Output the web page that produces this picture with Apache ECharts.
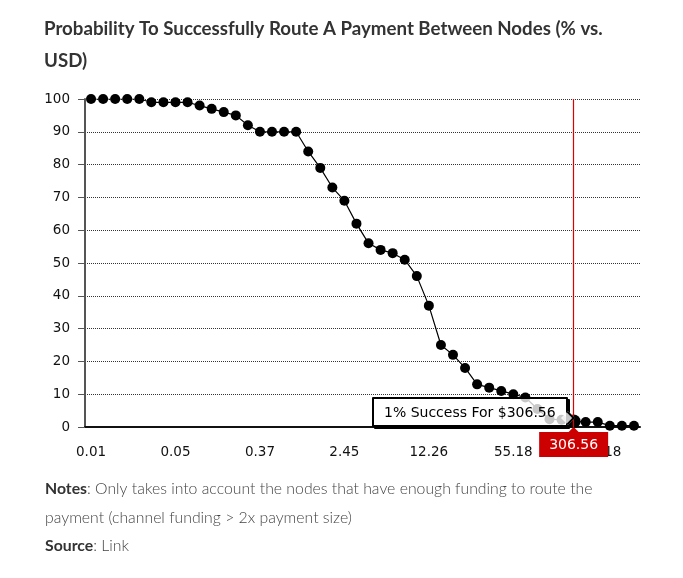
<!DOCTYPE html>
<html>
<head>
<meta charset="utf-8">
<script src="https://cdn.jsdelivr.net/npm/echarts@6/dist/echarts.min.js"></script>
<style>
html,body{margin:0;padding:0;background:#fff;}
#chart{width:683px;height:578px;}
</style>
</head>
<body>
<div id="chart"></div>
<script>
// Payment size in USD (category labels)
const categories = [
  '0.01','0.01','0.02','0.02','0.03','0.03','0.04',
  '0.05','0.07','0.09','0.12','0.16','0.21','0.28',
  '0.37','0.48','0.64','0.83','1.09','1.43','1.87',
  '2.45','3.08','3.88','4.88','6.14','7.73','9.74',
  '12.26','15.21','18.86','23.39','29.00','35.97','44.60',
  '55.18','77.76','109.58','154.42','217.61','306.56','433.60',
  '613.18','867.19','1226.36','1734.38'
];
// Success probability (%)
const successPct = [
  100,100,100,100,100,99,99,
  99,99,98,97,96,95,92,
  90,90,90,90,84,79,73,
  69,62,56,54,53,51,46,
  37,25,22,18,13,12,11,
  10,9,5.5,2.4,2.2,1.7,1.5,
  1.5,0.4,0.4,0.4
];
const yTicks = [0,10,20,30,40,50,60,70,80,90,100];
const highlightIndex = 40;

const chart = echarts.init(document.getElementById('chart'));
const pointerLine = {color: '#e00000', width: 1.2, type: 'solid', opacity: 1};
const option = {
  animation: false,
  backgroundColor: '#fff',
  title: [
    {
      left: 39, top: 8,
      text: 'Probability To Successfully Route A Payment Between Nodes (% vs.\nUSD)',
      textStyle: {fontFamily: 'Lato', fontWeight: 'bold', fontSize: 18.7, color: '#333', lineHeight: 32}
    },
    {
      left: 40, top: 470,
      text: '{b|Notes}: Only takes into account the nodes that have enough funding to route the\npayment (channel funding > 2x payment size)\n{b|Source}: Link',
      textStyle: {
        fontFamily: 'Lato', fontWeight: 300, fontSize: 15.8, color: '#444', lineHeight: 28.5,
        rich: {b: {fontFamily: 'Lato', fontWeight: 'bold', fontSize: 15.8, color: '#333', lineHeight: 28.5}}
      }
    }
  ],
  grid: {left: 85, right: 43, top: 99, bottom: 151},
  axisPointer: {lineStyle: pointerLine},
  tooltip: {
    trigger: 'item',
    triggerOn: 'none',
    alwaysShowContent: true,
    backgroundColor: 'rgba(255,255,255,0.78)',
    borderColor: '#000',
    borderWidth: 2,
    padding: [4, 10],
    textStyle: {fontFamily: 'DejaVu Sans', fontSize: 14, color: '#000', lineHeight: 18},
    extraCssText: 'box-shadow: 2px 2px 0 #000; border-radius: 1px; overflow: visible;',
    position: function () { return [372, 397]; },
    formatter: function (p) {
      return Math.floor(p.value) + '% Success For $' + p.name +
        '<div style="position:absolute;right:-7px;bottom:2px;width:8px;height:8px;' +
        'border-top:2px solid #000;border-right:2px solid #000;transform:rotate(45deg);' +
        'background:rgba(255,255,255,0.78);"></div>';
    }
  },
  xAxis: {
    type: 'category',
    data: categories,
    boundaryGap: true,
    axisLine: {lineStyle: {color: '#111', width: 2}},
    axisTick: {show: false},
    axisLabel: {interval: 6, margin: 18, fontFamily: 'DejaVu Sans', fontSize: 13.5, color: '#111'},
    splitLine: {show: false},
    axisPointer: {
      show: true,
      type: 'line',
      value: highlightIndex,
      status: 'show',
      snap: true,
      triggerTooltip: false,
      lineStyle: pointerLine,
      label: {
        show: true, backgroundColor: '#cc0000', color: '#fff', padding: [6, 10, 5, 10],
        fontFamily: 'DejaVu Sans', fontSize: 14, margin: 5, borderRadius: 0
      }
    }
  },
  yAxis: {
    type: 'value',
    min: yTicks[0], max: yTicks[yTicks.length - 1], interval: 10,
    axisLine: {show: true, lineStyle: {color: '#555', width: 2}},
    axisTick: {show: true, length: 7, lineStyle: {color: '#555', width: 1}},
    axisLabel: {margin: 15, fontFamily: 'DejaVu Sans', fontSize: 13.5, color: '#111'},
    splitLine: {show: true, lineStyle: {type: 'dotted', color: '#333', width: 1}},
    axisPointer: {show: false}
  },
  series: [{
    type: 'line',
    data: successPct,
    symbol: 'circle',
    symbolSize: 10,
    showSymbol: true,
    showAllSymbol: true,
    lineStyle: {color: '#000', width: 1.2},
    itemStyle: {color: '#000'},
    emphasis: {scale: 1.4, focus: 'none', lineStyle: {width: 1.2}}
  }]
};
chart.setOption(option);
// small pointer triangle on top of the axis-pointer label
const px = chart.convertToPixel({xAxisIndex: 0}, highlightIndex);
const py = chart.convertToPixel({yAxisIndex: 0}, 0);
chart.setOption({
  graphic: [{
    type: 'polygon', z: 100,
    shape: {points: [[px - 6, py + 6], [px + 6, py + 6], [px, py]]},
    style: {fill: '#cc0000'}
  }]
});
chart.dispatchAction({type: 'highlight', seriesIndex: 0, dataIndex: highlightIndex});
chart.dispatchAction({type: 'showTip', seriesIndex: 0, dataIndex: highlightIndex});
</script>
</body>
</html>
